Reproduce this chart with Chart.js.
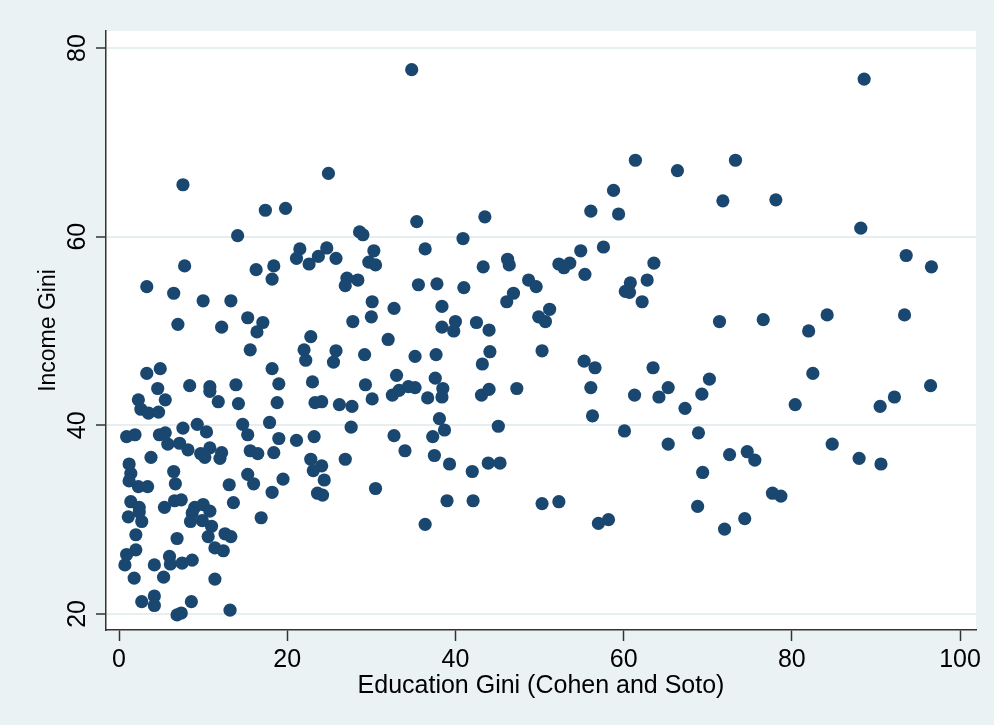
<!DOCTYPE html>
<html>
<head>
    <title>Income Gini vs Education Gini</title>
    <script src="https://cdn.jsdelivr.net/npm/chart.js"></script>
    <style>
        body { margin: 0; background: #eaf2f3; }
        canvas { display: block; }
    </style>
</head>
<body>
    <canvas id="scatterChart" width="994" height="725"></canvas>
    <script>
    // Education Gini (Cohen and Soto), one entry per country
    const eduGini = [
        34.8, 7.6, 24.9, 17.4, 19.8, 14.1, 35.4, 43.5, 28.6, 29.0, 40.9,
        61.4, 66.4, 73.3, 58.8, 56.1, 59.4, 71.8, 78.1,
        88.6, 88.2, 93.6, 96.6, 84.2, 82.0, 93.4, 82.5, 80.4, 90.5, 92.2, 96.5, 84.8, 88.0, 90.6, 77.7, 78.7,
        54.9, 57.6, 52.3, 52.9, 53.6, 55.4, 63.6, 60.8, 60.2, 60.7, 62.8, 62.2, 51.2, 50.7, 71.4, 76.6,
        55.3, 56.6, 63.5, 56.1, 61.3, 64.2, 65.3, 70.2, 69.3, 67.3, 56.3, 60.1, 68.9, 65.3,
        72.6, 74.7, 75.6, 69.4, 52.3, 57.0, 58.2, 68.8, 74.4, 72.0,
        24.7, 25.8, 30.3, 29.7, 30.5, 36.4, 46.2, 46.4, 43.3, 27.1, 26.9, 28.4, 35.6, 37.8, 41.0,
        48.7, 49.6, 46.9, 46.1, 30.1, 30.0, 32.7, 38.4, 27.8, 38.4, 40.0, 39.8, 42.5, 44.0, 49.9,
        32.0, 25.8, 25.5, 29.2, 35.2, 37.7, 44.1, 43.2, 50.3, 33.0, 29.3, 32.5, 33.3, 34.4, 35.2,
        37.6, 38.5, 38.4, 36.7, 30.1, 43.1, 44.0, 47.3, 26.2, 27.7, 27.6, 38.1, 38.7, 32.7, 37.3, 45.1,
        26.9, 34.0, 37.5, 39.3, 42.0, 43.9, 45.3, 30.5, 39.0, 42.1, 36.4, 50.3, 24.4,
        21.5, 21.1, 23.7, 22.6, 7.8, 16.3, 18.4, 18.2, 3.3, 6.5, 10.0, 13.3, 15.3, 17.1, 16.4,
        7.0, 12.2, 22.8, 22.0, 22.2, 15.6, 18.2, 3.3, 4.9, 4.6, 8.4, 10.8, 10.8, 13.9, 19.0, 23.0,
        2.3, 5.5, 2.6, 3.5, 4.7, 11.8, 14.2, 18.8, 23.3, 24.1, 14.7, 17.9,
        0.9, 1.9, 4.8, 5.5, 7.6, 9.3, 10.4, 15.3, 19.0, 21.1, 23.2,
        5.8, 7.2, 8.2, 3.8, 9.7, 10.2, 10.8, 12.2, 12.0, 15.6, 16.5, 18.4, 22.8, 24.1, 23.1,
        1.2, 1.4, 1.2, 2.3, 3.4, 6.5, 6.7, 13.1, 15.3, 16.0, 19.5, 18.2, 23.6, 24.2,
        1.4, 2.4, 1.1, 2.7, 2.4, 5.4, 6.6, 7.4, 13.6, 9.0, 10.0, 10.8, 8.7, 8.5, 9.9, 11.0,
        10.6, 12.6, 13.3, 16.9, 2.0, 6.9, 2.0, 0.9, 0.7, 4.2, 6.0, 6.1, 7.5, 8.7, 11.4, 12.4,
        1.8, 5.3, 11.4, 2.7, 4.2, 4.2, 8.6, 6.9, 7.4, 13.2
    ];

    // Income Gini, same order as eduGini
    const incomeGini = [
        77.7, 65.5, 66.7, 62.8, 63.0, 60.1, 61.6, 62.1, 60.5, 60.2, 59.8,
        68.1, 67.0, 68.1, 64.9, 62.7, 62.4, 63.8, 63.9,
        76.7, 60.9, 58.0, 56.8, 51.7, 50.0, 51.7, 45.5, 42.2, 42.0, 43.0, 44.2, 38.0, 36.5, 35.9, 32.8, 32.5,
        58.5, 58.9, 57.1, 56.7, 57.2, 56.0, 57.2, 55.1, 54.2, 54.1, 55.4, 53.1, 52.3, 51.0, 51.0, 51.2,
        46.8, 46.1, 46.1, 44.0, 43.2, 43.0, 44.0, 44.9, 43.3, 41.8, 41.0, 39.4, 39.2, 38.0,
        36.9, 37.2, 36.3, 35.0, 31.9, 29.6, 30.0, 31.4, 30.1, 29.0,
        58.8, 57.7, 58.5, 57.3, 57.0, 58.7, 57.6, 57.0, 56.8, 55.6, 54.8, 55.4, 54.9, 55.0, 54.6,
        55.4, 54.7, 54.0, 53.1, 53.1, 51.5, 52.4, 52.6, 51.0, 50.4, 51.0, 50.0, 50.9, 50.1, 51.5,
        49.1, 47.9, 46.7, 47.5, 47.3, 47.5, 47.8, 46.5, 47.9, 45.3, 44.3, 43.2, 43.7, 44.1, 44.0,
        45.0, 43.9, 43.0, 42.9, 42.8, 43.2, 43.8, 43.9, 42.2, 42.0, 39.8, 40.7, 39.5, 38.9, 38.8, 39.9,
        36.4, 37.3, 36.8, 35.9, 35.1, 36.0, 36.0, 33.3, 32.0, 32.0, 29.5, 31.7, 34.2,
        58.7, 57.7, 57.9, 57.1, 56.9, 56.5, 56.9, 55.5, 54.7, 54.0, 53.2, 53.2, 51.4, 50.9, 49.9,
        50.7, 50.4, 49.4, 48.0, 46.9, 48.0, 46.0, 45.5, 46.0, 43.9, 44.2, 44.1, 43.6, 44.3, 44.4, 44.6,
        42.7, 42.7, 41.7, 41.3, 41.4, 42.5, 42.3, 42.4, 42.4, 42.5, 40.1, 40.3,
        38.8, 39.0, 39.0, 39.2, 39.7, 40.1, 39.3, 39.0, 38.6, 38.4, 38.8,
        38.0, 38.1, 37.4, 36.6, 37.0, 36.6, 37.6, 37.1, 36.5, 37.3, 37.0, 37.1, 36.4, 35.7, 35.2,
        35.9, 34.9, 34.1, 33.5, 33.5, 35.1, 33.8, 33.7, 34.8, 33.8, 34.3, 32.9, 32.8, 32.6,
        31.9, 31.3, 30.3, 29.8, 30.8, 31.3, 32.0, 32.1, 31.8, 31.3, 31.6, 30.9, 30.7, 29.8, 29.9, 29.3,
        28.2, 28.5, 28.2, 30.2, 28.4, 28.0, 26.8, 26.3, 25.2, 25.2, 26.1, 25.3, 25.4, 25.7, 27.0, 26.7,
        23.8, 23.9, 23.7, 21.3, 21.9, 20.9, 21.3, 19.9, 20.1, 20.4
    ];

    const xTicks = [0, 20, 40, 60, 80, 100];
    const yTicks = [20, 40, 60, 80];

    const fontFamily = '"Liberation Sans", Arial, sans-serif';

    const points = eduGini.map((x, i) => ({ x: x, y: incomeGini[i] }));

    // grey-blue page, white plot region
    const backgroundPlugin = {
        id: 'stataBackground',
        beforeDraw(chart) {
            const { ctx, chartArea } = chart;
            ctx.save();
            ctx.fillStyle = '#eaf2f3';
            ctx.fillRect(0, 0, chart.width, chart.height);
            ctx.fillStyle = '#ffffff';
            ctx.fillRect(chartArea.left, chartArea.top,
                chartArea.right - chartArea.left, chartArea.bottom - chartArea.top);
            ctx.restore();
        }
    };

    // vertical y tick labels like Stata
    const yLabelPlugin = {
        id: 'yLabels',
        afterDraw(chart) {
            const { ctx } = chart;
            const yScale = chart.scales.y;
            ctx.save();
            ctx.fillStyle = '#000';
            ctx.font = '25px ' + fontFamily;
            ctx.textAlign = 'center';
            ctx.textBaseline = 'alphabetic';
            yScale.ticks.forEach(t => {
                const py = yScale.getPixelForValue(t.value);
                ctx.save();
                ctx.translate(yScale.right - 21, py);
                ctx.rotate(-Math.PI / 2);
                ctx.fillText(String(t.value), 0, 0);
                ctx.restore();
            });
            ctx.restore();
        }
    };

    const ctx = document.getElementById('scatterChart').getContext('2d');
    const myChart = new Chart(ctx, {
        type: 'scatter',
        data: {
            datasets: [{
                data: points,
                backgroundColor: '#1a476f',
                borderColor: '#1a476f',
                borderWidth: 0,
                pointRadius: 6.6
            }]
        },
        options: {
            responsive: false,
            animation: false,
            layout: { padding: { left: 0, right: 18, top: 31, bottom: 0 } },
            plugins: {
                legend: { display: false },
                tooltip: { enabled: false }
            },
            scales: {
                x: {
                    type: 'linear',
                    min: -1.55,
                    max: 101.9,
                    afterFit: s => { s.height = 95; },
                    afterBuildTicks: s => { s.ticks = xTicks.map(v => ({ value: v })); },
                    border: { color: '#333', width: 1.5 },
                    grid: { drawOnChartArea: false, tickLength: 11, tickColor: '#333', tickWidth: 1.5 },
                    ticks: { color: '#000', font: { family: fontFamily, size: 25 }, padding: 4, maxRotation: 0 },
                    title: {
                        display: true,
                        text: 'Education Gini (Cohen and Soto)',
                        color: '#000',
                        font: { family: fontFamily, size: 25 },
                        padding: { top: 0, bottom: 24 }
                    }
                },
                y: {
                    type: 'linear',
                    min: 18.3,
                    max: 81.8,
                    afterFit: s => { s.width = 106; },
                    afterBuildTicks: s => { s.ticks = yTicks.map(v => ({ value: v })); },
                    border: { color: '#333', width: 1.5 },
                    grid: { color: '#e6eef0', lineWidth: 2, tickLength: 10, tickColor: '#333', tickWidth: 1.5 },
                    ticks: { display: false },
                    title: {
                        display: true,
                        text: 'Income Gini',
                        color: '#000',
                        font: { family: fontFamily, size: 23 },
                        padding: { top: 35, bottom: 0 }
                    }
                }
            }
        },
        plugins: [backgroundPlugin, yLabelPlugin]
    });
    </script>
</body>
</html>
